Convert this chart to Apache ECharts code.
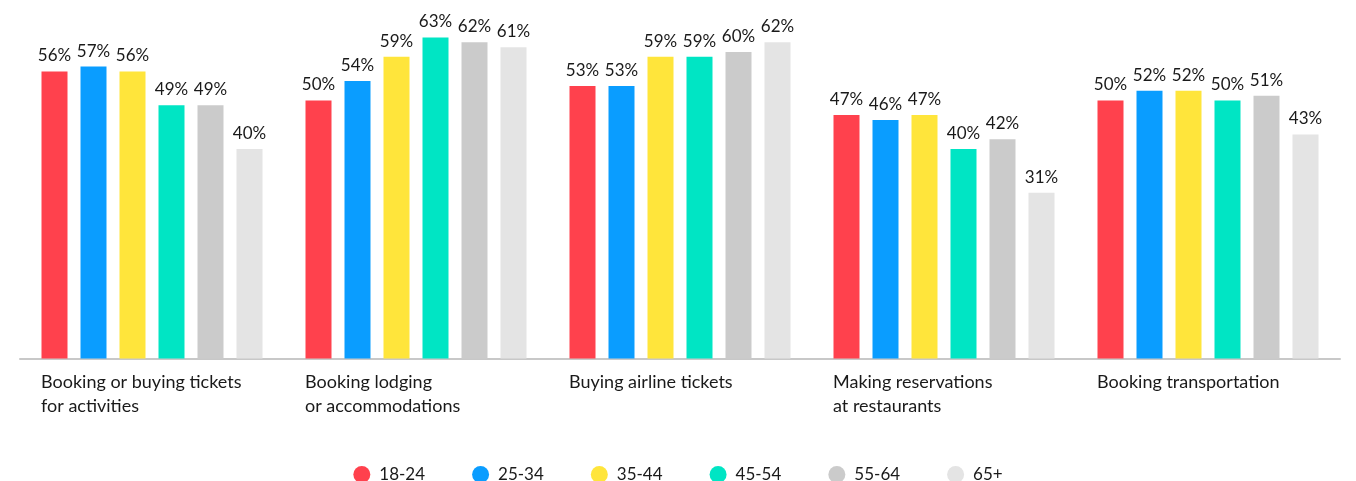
<!DOCTYPE html>
<html>
<head>
<meta charset="utf-8">
<script src="https://cdn.jsdelivr.net/npm/echarts@6/dist/echarts.min.js"></script>
<style>
html,body{margin:0;padding:0;background:#fff;}
#chart{width:1356px;height:481px;}
</style>
</head>
<body>
<div id="chart"></div>
<script>
const categories = [
  'Booking or buying tickets\nfor activities',
  'Booking lodging\nor accommodations',
  'Buying airline tickets',
  'Making reservations\nat restaurants',
  'Booking transportation'
];
const ageGroups = ['18-24', '25-34', '35-44', '45-54', '55-64', '65+'];
const v18_24 = [56, 50, 53, 47, 50];
const v25_34 = [57, 54, 53, 46, 52];
const v35_44 = [56, 59, 59, 47, 52];
const v45_54 = [49, 63, 59, 40, 50];
const v55_64 = [49, 62, 60, 42, 51];
const v65p   = [40, 61, 62, 31, 43];
const seriesValues = [v18_24, v25_34, v35_44, v45_54, v55_64, v65p];
const colors = ['#ff414d', '#0a9dff', '#ffe53b', '#00e5c4', '#cbcbcb', '#e4e4e4'];

const FONT = 'Lato';
const chart = echarts.init(document.getElementById('chart'), null, {renderer: 'canvas'});
chart.setOption({
  animation: false,
  color: colors,
  textStyle: {fontFamily: FONT},
  grid: {left: 20, right: 16, top: 3.5, bottom: 122.5, containLabel: false},
  legend: {
    data: ageGroups,
    top: 461,
    left: 'center',
    icon: 'circle',
    itemWidth: 17,
    itemHeight: 17,
    itemGap: 47,
    textStyle: {fontSize: 17, color: '#1a1a1a', fontFamily: FONT, padding: [0, 0, 0, 4]}
  },
  xAxis: {
    type: 'category',
    data: categories,
    axisTick: {show: false},
    axisLine: {onZero: false, lineStyle: {color: '#c8c8c8', width: 2}},
    axisLabel: {
      interval: 0,
      margin: 12,
      formatter: v => v.split('\n').map(s => '{a|' + s + '}').join('\n'),
      rich: {
        a: {width: 222, align: 'left', fontSize: 18, lineHeight: 24, color: '#1a1a1a', fontFamily: FONT}
      }
    }
  },
  yAxis: {
    type: 'value',
    min: -3.2,
    max: 70,
    startValue: -3.2,
    show: false,
    splitLine: {show: false}
  },
  series: ageGroups.map((name, i) => ({
    name: name,
    type: 'bar',
    data: seriesValues[i],
    barWidth: 26,
    barGap: '50%',
    itemStyle: {color: colors[i]},
    label: {
      show: true,
      position: 'top',
      distance: 7,
      formatter: p => p.value + '%',
      fontSize: 17,
      color: '#1a1a1a',
      fontFamily: FONT
    }
  }))
});
</script>
</body>
</html>
